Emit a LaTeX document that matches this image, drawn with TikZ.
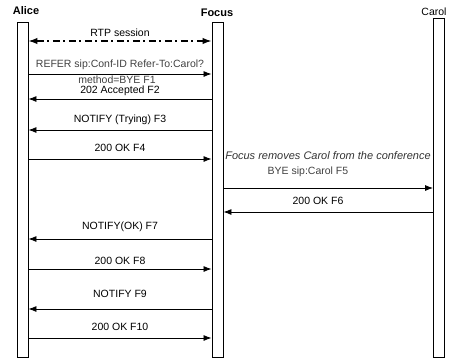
\documentclass[tikz,border=0pt]{standalone}
\usepackage{fontspec}
\setmainfont{Liberation Sans}
\usetikzlibrary{arrows.meta}
\tikzset{
  x=1pt, y=-1pt,
  lifebar/.style={draw=black, fill=white, line width=0.9pt, minimum width=11pt, inner sep=0pt, anchor=north},
  actor/.style={font=\fontsize{11}{12}\selectfont\bfseries, inner sep=0pt},
  actorlight/.style={font=\fontsize{10.5}{12}\selectfont, inner sep=0pt},
  msg/.style={draw=black, line width=0.8pt, -{Latex[length=8pt,width=6pt]}},
  rtp/.style={draw=black, line width=1.4pt, dash pattern=on 7pt off 3.5pt on 2pt off 3.5pt, {Latex[length=9pt,width=6.5pt]}-{Latex[length=9pt,width=6.5pt]}},
  lbl/.style={font=\fontsize{10.5}{12}\selectfont, inner sep=0pt},
  note/.style={font=\fontsize{11}{12}\selectfont\itshape, inner sep=0pt, text=black!80},
}
\begin{document}
\begin{tikzpicture}
\useasboundingbox (0,0) rectangle (456,359);
% lifelines
\node[lifebar, minimum height=335pt] (A) at (22.5,22) {};
\node[lifebar, minimum height=335pt] (F) at (217.5,22) {};
\node[lifebar, minimum height=339pt] (C) at (439,18) {};
% actors
\node[actor] (la) at (26,11) {Alice};
\node[actor] (lf) at (217,13) {Focus};
\node[actorlight] (lc) at (434,12) {Carol};
% RTP session
\coordinate (r1) at (A.east |- 0,41);
\coordinate (r2) at (F.west |- 0,41);
\draw[rtp] (r1) -- (r2);
\node[lbl] (trtp) at (120,33) {RTP session};
% F1
\coordinate (m1a) at (A.east |- 0,74);
\coordinate (m1b) at (F.west |- 0,74);
\draw[msg] (m1a) -- (m1b);
\node[lbl, text=black!75] (t1a) at (120,65) {REFER sip:Conf-ID Refer-To:Carol?};
\node[lbl, text=black!75] (t1b) at (117,80) {method=BYE F1};
% F2
\coordinate (m2a) at (F.west |- 0,99);
\coordinate (m2b) at (A.east |- 0,99);
\draw[msg] (m2a) -- (m2b);
\node[lbl] (t2) at (120,91) {202 Accepted F2};
% F3
\coordinate (m3a) at (F.west |- 0,130);
\coordinate (m3b) at (A.east |- 0,130);
\draw[msg] (m3a) -- (m3b);
\node[lbl] (t3) at (120,120) {NOTIFY (Trying) F3};
% F4
\coordinate (m4a) at (A.east |- 0,159);
\coordinate (m4b) at (F.west |- 0,159);
\draw[msg] (m4a) -- (m4b);
\node[lbl] (t4) at (120,148) {200 OK F4};
% note
\node[note] (nt) at (328,156) {Focus removes Carol from the conference};
% F5
\coordinate (m5a) at (F.east |- 0,188);
\coordinate (m5b) at (C.west |- 0,188);
\draw[msg] (m5a) -- (m5b);
\node[lbl, text=black!75] (t5) at (308,172) {BYE sip:Carol F5};
% F6
\coordinate (m6a) at (C.west |- 0,212);
\coordinate (m6b) at (F.east |- 0,212);
\draw[msg] (m6a) -- (m6b);
\node[lbl] (t6) at (318,201) {200 OK F6};
% F7
\coordinate (m7a) at (F.west |- 0,239);
\coordinate (m7b) at (A.east |- 0,239);
\draw[msg] (m7a) -- (m7b);
\node[lbl] (t7) at (120,227) {NOTIFY(OK) F7};
% F8
\coordinate (m8a) at (A.east |- 0,269);
\coordinate (m8b) at (F.west |- 0,269);
\draw[msg] (m8a) -- (m8b);
\node[lbl] (t8) at (120,261) {200 OK F8};
% F9
\coordinate (m9a) at (F.west |- 0,309);
\coordinate (m9b) at (A.east |- 0,309);
\draw[msg] (m9a) -- (m9b);
\node[lbl] (t9) at (120,294) {NOTIFY F9};
% F10
\coordinate (m10a) at (A.east |- 0,338);
\coordinate (m10b) at (F.west |- 0,338);
\draw[msg] (m10a) -- (m10b);
\node[lbl] (t10) at (120,327) {200 OK F10};
\end{tikzpicture}
\end{document}
